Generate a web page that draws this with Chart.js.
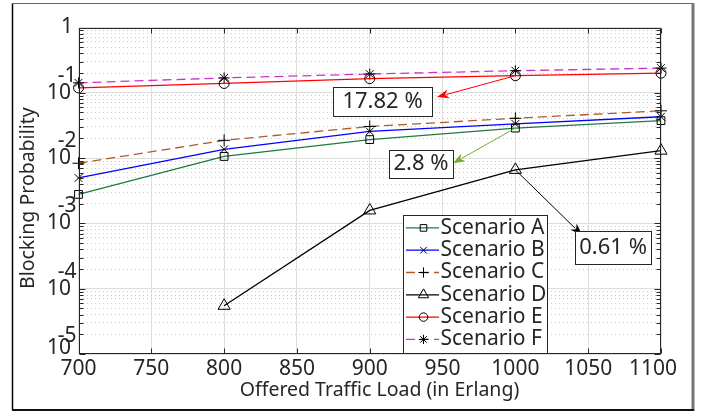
<!DOCTYPE html>
<html><head><meta charset="utf-8">
<script src="https://cdn.jsdelivr.net/npm/chart.js@4.4.0/dist/chart.umd.min.js"></script>
<style>html,body{margin:0;padding:0;background:#fff;}#wrap{width:701px;height:414px;}</style>
</head><body><div id="wrap"><canvas id="c" width="701" height="414"></canvas></div>
<script>
// ---- data ----
const loads = [700, 800, 900, 1000, 1100];
const scenarioA = [2.78e-3, 1.06e-2, 1.92e-2, 2.88e-2, 3.75e-2];
const scenarioB = [4.96e-3, 1.36e-2, 2.56e-2, 3.34e-2, 4.30e-2];
const scenarioC = [8.35e-3, 1.87e-2, 3.05e-2, 4.07e-2, 5.30e-2];
const scenarioD = [null, 5.47e-5, 1.58e-3, 6.6e-3, 1.30e-2];
const scenarioE = [0.119, 0.139, 0.165, 0.183, 0.200];
const scenarioF = [0.142, 0.169, 0.194, 0.218, 0.239];
const seriesNames = ['Scenario A', 'Scenario B', 'Scenario C', 'Scenario D', 'Scenario E', 'Scenario F'];
const xTicks = [700, 750, 800, 850, 900, 950, 1000, 1050, 1100];
const yDecades = [1e-5, 1e-4, 1e-3, 1e-2, 1e-1, 1];
const yBaseLabels = ['10', '10', '10', '10', '10', '1'];
const yExponentLabels = ['-5', '-4', '-3', '-2', '-1', ''];
const annotationTexts = ['17.82 %', '2.8 %', '0.61 %'];

// ---- styles ----
const FONT = '"Noto Sans", "Open Sans", sans-serif';
const TXT = '#262626';
const styles = [
  {color: '#1f7a3f', dash: [], point: 'rect', r: 5.5},
  {color: '#0000ff', dash: [], point: 'crossRot', r: 5.5},
  {color: '#b05a2a', dash: [9, 5], point: 'cross', r: 6},
  {color: '#000000', dash: [], point: 'triangle', r: 7},
  {color: '#ff0000', dash: [], point: 'circle', r: 5},
  {color: '#cc33cc', dash: [9, 5], point: 'star', r: 5.5}
];
const seriesValues = [scenarioA, scenarioB, scenarioC, scenarioD, scenarioE, scenarioF];

const annotations = [
  {text: annotationTexts[0], color: '#ff0000', from: {x: 1000, y: scenarioE[3]}, to: {x: 946.2, y: 0.0861}, box: {x: 908.8, y: 0.0729, w: 99, h: 29}},
  {text: annotationTexts[1], color: '#77ac30', from: {x: 1000, y: scenarioA[3]}, to: {x: 957.2, y: 0.00835}, box: {x: 935.2, y: 0.00807, w: 64, h: 28}},
  {text: annotationTexts[2], color: '#000000', from: {x: 1000, y: scenarioD[3]}, to: {x: 1045.8, y: 6.64e-4}, box: {x: 1067.1, y: 4.31e-4, w: 76, h: 33}}
];

const datasets = seriesNames.map((name, i) => ({
  label: name,
  data: loads.map((x, j) => ({x: x, y: seriesValues[i][j]})).filter(p => p.y != null),
  borderColor: styles[i].color,
  borderWidth: 1.3,
  borderDash: styles[i].dash,
  pointStyle: styles[i].point,
  pointRadius: styles[i].r,
  pointBorderColor: '#000',
  pointBackgroundColor: 'rgba(0,0,0,0)',
  pointBorderWidth: 1,
  tension: 0,
  fill: false,
  clip: false
}));

function isDecade(v) { return yDecades.some(d => Math.abs(v / d - 1) < 1e-6); }

function drawMarker(ctx, style, r, x, y) {
  ctx.save();
  ctx.strokeStyle = '#000';
  ctx.fillStyle = 'rgba(0,0,0,0)';
  ctx.lineWidth = 1;
  ctx.setLineDash([]);
  if (Chart.helpers && Chart.helpers.drawPoint) {
    Chart.helpers.drawPoint(ctx, {pointStyle: style, radius: r, borderWidth: 1, rotation: 0}, x, y);
  }
  ctx.restore();
}

function arrow(ctx, x1, y1, x2, y2, color) {
  const ang = Math.atan2(y2 - y1, x2 - x1);
  const L = 12, W = 4.5;
  ctx.save();
  ctx.strokeStyle = color; ctx.fillStyle = color; ctx.lineWidth = 1;
  ctx.beginPath(); ctx.moveTo(x1, y1);
  ctx.lineTo(x2 - L * 0.8 * Math.cos(ang), y2 - L * 0.8 * Math.sin(ang)); ctx.stroke();
  ctx.beginPath();
  ctx.moveTo(x2, y2);
  ctx.lineTo(x2 - L * Math.cos(ang) + W * Math.sin(ang), y2 - L * Math.sin(ang) - W * Math.cos(ang));
  ctx.lineTo(x2 - L * 0.7 * Math.cos(ang), y2 - L * 0.7 * Math.sin(ang));
  ctx.lineTo(x2 - L * Math.cos(ang) - W * Math.sin(ang), y2 - L * Math.sin(ang) + W * Math.cos(ang));
  ctx.closePath(); ctx.fill();
  ctx.restore();
}

const decorPlugin = {
  id: 'decor',
  beforeDraw(chart) {
    const ctx = chart.ctx;
    ctx.save();
    ctx.fillStyle = '#fff'; ctx.fillRect(0, 0, chart.width, chart.height);
    // figure frame
    ctx.strokeStyle = '#000'; ctx.lineWidth = 1.5;
    ctx.beginPath(); ctx.moveTo(12.5, 3); ctx.lineTo(12.5, 410); ctx.stroke();
    ctx.strokeStyle = '#666'; ctx.lineWidth = 1;
    ctx.beginPath(); ctx.moveTo(12, 3.5); ctx.lineTo(692, 3.5); ctx.stroke();
    ctx.strokeStyle = '#777'; ctx.lineWidth = 3;
    ctx.beginPath(); ctx.moveTo(693, 3); ctx.lineTo(693, 411); ctx.stroke();
    ctx.strokeStyle = '#111'; ctx.lineWidth = 2;
    ctx.beginPath(); ctx.moveTo(12, 410); ctx.lineTo(694, 410); ctx.stroke();
    ctx.restore();
  },
  afterDatasetsDraw(chart) {
    const ctx = chart.ctx, ca = chart.chartArea;
    const xs = chart.scales.x, ys = chart.scales.y;
    const L = Math.round(ca.left) + 0.5, R = Math.round(ca.right) - 0.5;
    const T = Math.round(ca.top) + 0.5, B = Math.round(ca.bottom) - 0.5;
    ctx.save();
    ctx.strokeStyle = TXT; ctx.lineWidth = 1; ctx.setLineDash([]);
    ctx.strokeRect(L, T, R - L, B - T);
    // inward ticks
    ctx.beginPath();
    ys.ticks.forEach(t => {
      const y = Math.round(ys.getPixelForValue(t.value)) + 0.5;
      const len = t.major ? 6 : 4;
      ctx.moveTo(L, y); ctx.lineTo(L + len, y);
      ctx.moveTo(R, y); ctx.lineTo(R - len, y);
    });
    xs.ticks.forEach(t => {
      const x = Math.round(xs.getPixelForValue(t.value)) + 0.5;
      ctx.moveTo(x, B); ctx.lineTo(x, B - 5);
      ctx.moveTo(x, T); ctx.lineTo(x, T + 5);
    });
    ctx.stroke();
    // annotations
    annotations.forEach(a => {
      const x1 = xs.getPixelForValue(a.from.x), y1 = ys.getPixelForValue(a.from.y);
      const x2 = xs.getPixelForValue(a.to.x), y2 = ys.getPixelForValue(a.to.y);
      arrow(ctx, x1, y1, x2, y2, a.color);
      const cx = xs.getPixelForValue(a.box.x), cy = ys.getPixelForValue(a.box.y);
      const bx = Math.round(cx - a.box.w / 2) + 0.5, by = Math.round(cy - a.box.h / 2) + 0.5;
      ctx.fillStyle = '#fff'; ctx.fillRect(bx, by, a.box.w, a.box.h);
      ctx.strokeStyle = TXT; ctx.lineWidth = 1; ctx.strokeRect(bx, by, a.box.w, a.box.h);
      ctx.fillStyle = TXT; ctx.font = '22px ' + FONT;
      ctx.textAlign = 'center'; ctx.textBaseline = 'middle';
      ctx.fillText(a.text, cx, cy);
    });
    // legend
    const lx = Math.round(ca.left + 324.2) + 0.5, ly = Math.round(ca.top + 187.3) + 0.5;
    const lw = 144, lh = 138;
    ctx.fillStyle = '#fff'; ctx.fillRect(lx, ly, lw, lh);
    ctx.strokeStyle = TXT; ctx.lineWidth = 1; ctx.strokeRect(lx, ly, lw, lh);
    chart.data.datasets.forEach((ds, i) => {
      const y = ly + 12.4 + i * 22.3;
      ctx.save();
      ctx.strokeStyle = ds.borderColor; ctx.lineWidth = 1.3; ctx.setLineDash(ds.borderDash);
      ctx.beginPath(); ctx.moveTo(lx + 2.5, y); ctx.lineTo(lx + 35.5, y); ctx.stroke();
      ctx.restore();
      drawMarker(ctx, ds.pointStyle, ds.pointRadius * 0.85, lx + 20, y);
      ctx.fillStyle = TXT; ctx.font = '21px ' + FONT;
      ctx.textAlign = 'left'; ctx.textBaseline = 'middle';
      ctx.fillText(ds.label, lx + 37, y);
    });
    ctx.restore();
  }
};

new Chart(document.getElementById('c'), {
  type: 'line',
  data: {datasets: datasets},
  plugins: [decorPlugin],
  options: {
    responsive: false, animation: false, events: [],
    layout: {padding: {left: 17, right: 40, top: 22, bottom: 8}},
    plugins: {legend: {display: false}, tooltip: {enabled: false}},
    scales: {
      x: {
        type: 'linear', min: 700, max: 1100,
        afterBuildTicks: s => { s.ticks = xTicks.map(v => ({value: v})); },
        afterFit: s => { s.height = 52; },
        ticks: {autoSkip: false, maxRotation: 0, font: {family: FONT, size: 21}, color: TXT, padding: 2,
                callback: v => (v === xTicks[xTicks.length - 1] ? String(v) + '\u2002 ' : String(v))},
        grid: {color: '#dedede', lineWidth: 1, drawTicks: false},
        border: {display: false},
        title: {display: true, text: '\u2002\u2002Offered Traffic Load (in Erlang)', font: {family: FONT, size: 19.5}, color: TXT, padding: {top: 0, bottom: 4}}
      },
      y: {
        type: 'logarithmic', min: 1e-5, max: 1,
        afterBuildTicks: s => {
          const t = [];
          yDecades.forEach((d, k) => {
            if (k === yDecades.length - 1) { t.push({value: d, major: true}); return; }
            for (let m = 1; m <= 9; m++) t.push({value: m * d, major: m === 1});
          });
          s.ticks = t;
        },
        afterFit: s => { s.width = 61.5; },
        ticks: {
          autoSkip: false, color: TXT, padding: 2,
          font: c => ({family: FONT, size: 21, lineHeight: (c.tick && Math.abs(c.tick.value / 1e-5 - 1) < 1e-6) ? '12px' : '17px'}),
          callback: (v) => {
            const k = yDecades.findIndex(d => Math.abs(v / d - 1) < 1e-6);
            if (k < 0) return '';
            const base = yBaseLabels[k] + (yExponentLabels[k] ? ' ' : '\u2009');
            if (k === 0) return [yExponentLabels[k], base, '', ''];
            return [yExponentLabels[k], base, ''];
          }
        },
        grid: {
          drawTicks: false, lineWidth: 1,
          color: c => (c.tick && isDecade(c.tick.value)) ? '#dedede' : '#cacaca'
        },
        border: {display: false, dash: c => (c.tick && isDecade(c.tick.value)) ? [] : [1, 3]},
        title: {display: true, text: 'Blocking Probability\u2002 ', font: {family: FONT, size: 19.5}, color: TXT, padding: {top: 0, bottom: 0}}
      }
    }
  }
});
</script></body></html>
